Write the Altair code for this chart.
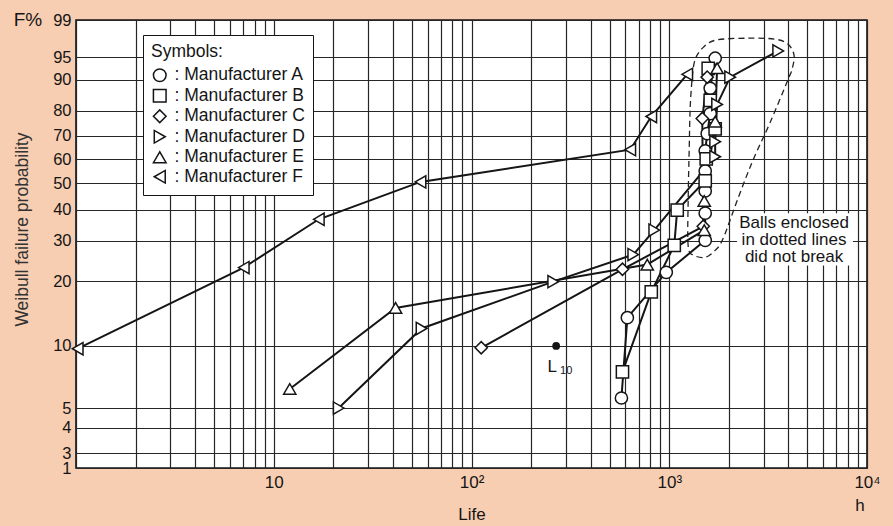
import math
import altair as alt
import pandas as pd

# ---- data: life (h) and Weibull failure probability (%) per manufacturer ----
manufacturers = ["Manufacturer A", "Manufacturer B", "Manufacturer C",
                 "Manufacturer D", "Manufacturer E", "Manufacturer F"]
marker_shapes = ["circle", "square", "diamond", "triangle-right", "triangle-up", "triangle-left"]

life_a = [573, 614, 966, 1520, 1520, 1520, 1520, 1520, 1556, 1611, 1611, 1707]
prob_a = [5.6, 13.6, 21.9, 30.1, 38.8, 47.0, 55.1, 63.6, 70.9, 78.9, 87.6, 94.8]

life_b = [580, 811, 1060, 1097, 1520, 1538, 1707, 1611, 1574]
prob_b = [7.5, 17.9, 28.7, 39.9, 51.0, 60.2, 72.9, 83.7, 92.8]

life_c = [112, 580, 1486, 1469, 1556]
prob_c = [9.8, 22.6, 34.4, 77.0, 90.7]

life_d = [21.3, 55.9, 259, 658, 840, 1707, 1707, 1746, 2032, 3556]
prob_d = [5.0, 12.1, 19.9, 26.2, 33.2, 61.1, 67.5, 82.3, 90.7, 96.0]

life_e = [12.05, 41.3, 774, 1503, 1503, 1707, 1746]
prob_e = [6.2, 15.1, 23.7, 33.2, 43.2, 75.8, 92.8]

life_f = [1.02, 7.05, 16.9, 55.2, 635, 811, 1233]
prob_f = [9.7, 23.0, 36.7, 50.6, 64.1, 77.8, 91.4]

# rating life point L10
l10_life = [268]
l10_prob = [10]

# outline around the balls that did not break
outline_life = [1306, 1352, 1485, 1727, 2477, 3428, 3990, 4277, 4180, 3990, 3236,
                2656, 2230, 1874, 1707, 1520, 1336, 1247, 1247, 1262, 1276, 1306]
outline_prob = [90.7, 94.6, 96.5, 97.4, 97.6, 97.5, 96.9, 95.3, 92.6, 90.1, 75.4,
                59.8, 44.3, 30.7, 27.3, 25.5, 26.0, 28.4, 44.3, 64.9, 81.2, 90.7]

note_lines = ["Balls enclosed", "in dotted lines", "did not break"]
note_life = [4277, 4277, 4277]
note_prob = [35.4, 30.1, 25.7]
note_box_life = [2203, 8492]
note_box_prob = [23.5, 38.8]

# axis ticks
x_tick_values = [10, 100, 1000, 10000]
x_tick_labels = ["10", "10²", "10³", "10⁴"]
x_grid_values = [m * 10 ** k for k in range(0, 4) for m in range(1, 10)] + [10000]
y_tick_labels = [1, 3, 4, 5, 10, 20, 30, 40, 50, 60, 70, 80, 90, 95, 99]


def weibull(p):
    return math.log(-math.log(1 - p / 100.0))


Y_TOP = weibull(99)
Y_BOTTOM = -3.665
y_tick_pos = [max(weibull(p), Y_BOTTOM) for p in y_tick_labels]

y_label_expr = " : ".join(
    f"abs(datum.value - ({v:.5f})) < 0.002 ? '{lab}'" for v, lab in zip(y_tick_pos, y_tick_labels)
) + " : ''"
x_label_expr = " : ".join(
    f"abs(datum.value - {v}) < 0.001 ? '{lab}'" for v, lab in zip(x_tick_values, x_tick_labels)
) + " : ''"

W_EXPR = "log(-log(1 - datum.prob / 100))"

rows = []
for name, life, prob in zip(manufacturers,
                            [life_a, life_b, life_c, life_d, life_e, life_f],
                            [prob_a, prob_b, prob_c, prob_d, prob_e, prob_f]):
    for i, (h, p) in enumerate(zip(life, prob)):
        rows.append({"maker": name, "life": h, "prob": p, "seq": i})
points = pd.DataFrame(rows)

outline = pd.DataFrame({"life": outline_life, "prob": outline_prob,
                        "seq": list(range(len(outline_life)))})
notes = pd.DataFrame({"life": note_life, "prob": note_prob, "txt": note_lines})
note_box = pd.DataFrame({"life": [note_box_life[0]], "life2": [note_box_life[1]],
                         "prob": [note_box_prob[1]], "prob2": [note_box_prob[0]]})
l10 = pd.DataFrame({"life": l10_life, "prob": l10_prob})

FONT = "Liberation Sans"
INK = "#151515"

x_scale = alt.Scale(type="log", domain=[1, 10000], nice=False)
y_scale = alt.Scale(domain=[Y_BOTTOM, Y_TOP], nice=False, zero=False)

x_axis = alt.Axis(values=x_grid_values, labelExpr=x_label_expr, grid=True, ticks=False,
                  domain=False, labelFontSize=17, labelPadding=6, labelFlush=False,
                  labelOverlap=False, labelColor=INK, labelFont=FONT,
                  title="Life", titleFontSize=17, titleFontWeight="normal",
                  titleColor=INK, titleFont=FONT, titlePadding=16,
                  gridColor="#262626", gridWidth=1.2, gridOpacity=1)
y_axis = alt.Axis(values=y_tick_pos, labelExpr=y_label_expr, grid=True, ticks=False,
                  domain=False, labelFontSize=16.5, labelPadding=5, labelFlush=False,
                  labelOverlap=False, labelColor=INK, labelFont=FONT,
                  title="Weibull failure probability", titleFontSize=17.5,
                  titleFontWeight="normal", titleColor="#333", titleFont=FONT,
                  titleX=-49, titleY=209, titleBaseline="alphabetic",
                  gridColor="#262626", gridWidth=1.2, gridOpacity=1)

X = alt.X("life:Q", scale=x_scale, axis=x_axis)
Y = alt.Y("w:Q", scale=y_scale, axis=y_axis)

symbol_legend = alt.Legend(
    title="Symbols:", orient="none", legendX=67, legendY=15,
    labelExpr="': ' + datum.label", fillColor="white",
    strokeColor=INK, padding=8, titleFontSize=17.5,
    titleFontWeight="normal", titleFont=FONT, titleColor=INK,
    titlePadding=6, labelFontSize=17.5, labelFont=FONT,
    labelColor=INK, labelLimit=300, labelOffset=6,
    symbolSize=160, symbolStrokeWidth=1.5, rowPadding=0.5)

# white backing behind the note text
box_layer = alt.Chart(note_box).transform_calculate(
    w=W_EXPR, w2="log(-log(1 - datum.prob2 / 100))"
).mark_rect(fill="white", stroke=None).encode(
    x=X, x2="life2:Q", y=Y, y2="w2:Q"
)

outline_layer = alt.Chart(outline).transform_calculate(w=W_EXPR).mark_line(
    color="#222", strokeWidth=1.3, strokeDash=[6, 4], interpolate="cardinal"
).encode(x=X, y=Y, order="seq:Q")

line_layer = alt.Chart(points).transform_calculate(w=W_EXPR).mark_line(
    color=INK, strokeWidth=2
).encode(x=X, y=Y, detail="maker:N", order="seq:Q")

point_layer = alt.Chart(points).transform_calculate(w=W_EXPR).mark_point(
    filled=False, fill="white", fillOpacity=1, strokeWidth=1.5,
    opacity=1, size=150
).encode(
    x=X, y=Y,
    shape=alt.Shape("maker:N", scale=alt.Scale(domain=manufacturers, range=marker_shapes),
                    legend=symbol_legend),
    color=alt.Color("maker:N", scale=alt.Scale(domain=manufacturers, range=[INK] * 6),
                    legend=symbol_legend),
)

l10_layer = alt.Chart(l10).transform_calculate(w=W_EXPR).mark_circle(
    color=INK, size=60, opacity=1
).encode(x=X, y=Y)

l10_text = alt.Chart(l10).transform_calculate(w=W_EXPR).mark_text(
    text="L", fontSize=17, font=FONT, color=INK, dx=-4, dy=21
).encode(x=X, y=Y)
l10_sub = alt.Chart(l10).transform_calculate(w=W_EXPR).mark_text(
    text="10", fontSize=11, font=FONT, color=INK, dx=10, dy=25
).encode(x=X, y=Y)

note_layer = alt.Chart(notes).transform_calculate(w=W_EXPR).mark_text(
    fontSize=17, font=FONT, color=INK, align="center", baseline="middle"
).encode(x=X, y=Y, text="txt:N")

f_label = alt.Chart(l10).mark_text(
    text="F%", fontSize=19, font=FONT, color=INK, align="center", baseline="middle"
).encode(x=alt.value(-48), y=alt.value(0))
h_label = alt.Chart(l10).mark_text(
    text="h", fontSize=17, font=FONT, color=INK, align="center", baseline="middle"
).encode(x=alt.value(784), y=alt.value(486))

chart = alt.layer(
    box_layer, outline_layer, line_layer, point_layer, l10_layer,
    l10_text, l10_sub, note_layer, f_label, h_label
).properties(
    width=791, height=448,
    autosize=alt.AutoSizeParams(type="none"),
    padding={"left": 76, "top": 20, "right": 26, "bottom": 58},
).configure(
    background="#F8CEB2",
).configure_view(
    fill="white", stroke=INK, strokeWidth=1.6
)

chart.save("out.html", embed_options={"renderer": "svg", "actions": False})
